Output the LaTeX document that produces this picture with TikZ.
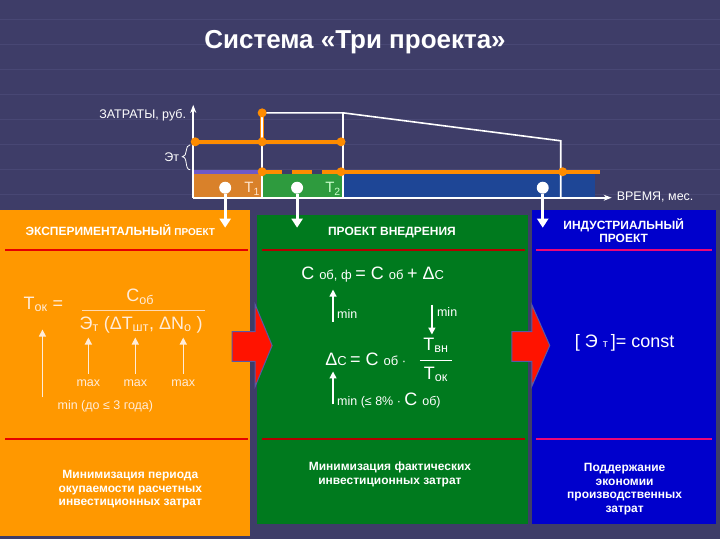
\documentclass[tikz,border=0pt]{standalone}
\usepackage{fontspec}
\setmainfont{Liberation Sans}
\usetikzlibrary{arrows.meta}
\begin{document}
\begin{tikzpicture}[x=1pt,y=-1pt,
  wl/.style={draw=white,line width=1.6pt},
  ol/.style={draw=orange!90!yellow,line width=4pt},
  dot/.style={circle,fill=orange!90!yellow,inner sep=0pt,minimum size=9pt},
  pin/.style={circle,fill=white,inner sep=0pt,minimum size=12pt},
  pinarr/.style={draw=white,line width=3pt,-{Triangle[width=11pt,length=9pt]}},
  warr/.style={draw=white,line width=1.3pt,-{Triangle[width=7pt,length=7pt]}},
  txt/.style={text=white,font=\fontsize{18}{20}\selectfont,inner sep=1pt},
  stxt/.style={text=white,font=\fontsize{12.5}{14}\selectfont,inner sep=1pt},
  hdr/.style={text=white,font=\bfseries\fontsize{12}{13}\selectfont,align=center,inner sep=1pt},
  btxt/.style={text=white,font=\bfseries\fontsize{12}{13.5}\selectfont,align=center,inner sep=1pt},
  redarr/.style={fill=red!85!orange,draw=gray!70!blue,line width=1pt}]
\fill[color={rgb,255:red,62;green,61;blue,104}] (0,0) rectangle (720,540);
\foreach \y in {20,45,70,95,120,145,170,195} \draw[color={rgb,255:red,72;green,71;blue,116},line width=1pt] (0,\y) -- (720,\y);
\node[text=white,font=\bfseries\fontsize{26}{28}\selectfont] (title) at (355,42) {Система «Три проекта»};
% chart fills
\fill[color={rgb,255:red,217;green,129;blue,42}] (193,174) rectangle (262,198);
\fill[color={rgb,255:red,46;green,155;blue,62}] (262,174) rectangle (343,198);
\fill[color={rgb,255:red,30;green,70;blue,150}] (343,174) rectangle (595,198);
% orange lines
\draw[draw={rgb,255:red,110;green,90;blue,200},line width=4pt] (193,172) -- (262,172);
\draw[ol] (262,172) -- (282,172) (292,172) -- (312,172) (322,172) -- (600,172);
\draw[ol] (195,142) -- (341,142);
\draw[ol] (262,142) -- (262,113);
% white lines
\draw[wl] (262,113) -- (343,113) -- (561,141) -- (561,198);
\draw[wl] (262,113) -- (262,198);
\draw[wl] (343,113) -- (343,198);
\draw[wl,->,>={Stealth[length=8pt]}] (193,198) -- (193,105);
\draw[wl,->,>={Stealth[length=8pt]}] (193,198) -- (612,198);
\foreach \p in {(195,142),(262,142),(341,142),(262,113),(262,172),(341,172),(563,172)} \node[dot] at \p {};
\node[stxt,anchor=east] (za) at (187,115) {ЗАТРАТЫ, руб.};
\node[stxt,anchor=west] (vr) at (616,197) {ВРЕМЯ, мес.};
\node[stxt,anchor=east] (et) at (180,157) {Эт};
\draw[white,line width=0.8pt] (190,145) .. controls (184,145) and (188,157) .. (182,157) .. controls (188,157) and (184,170) .. (190,170);
\node[txt,font=\fontsize{15}{16}\selectfont,text=white!80!orange] (t1) at (252,189) {T\textsubscript{1}};
\node[txt,font=\fontsize{15}{16}\selectfont,text=white!80!green] (t2) at (333,189) {T\textsubscript{2}};
% panels
\fill[color={rgb,255:red,255;green,152;blue,0}] (0,210) rectangle (250,537);
\fill[color={rgb,255:red,0;green,122;blue,30}] (257,215) rectangle (528,525);
\fill[color={rgb,255:red,0;green,0;blue,204}] (532,210) rectangle (716,525);
\draw[red!90!black,line width=2pt] (5,250) -- (248,250) (5,440) -- (248,440);
\draw[red!70!black,line width=2pt] (262,250) -- (525,250) (262,440) -- (525,440);
\draw[magenta!80!red,line width=2pt] (536,250) -- (712,250) (536,440) -- (712,440);
\node[hdr] (h1) at (120,230) {ЭКСПЕРИМЕНТАЛЬНЫЙ \fontsize{10}{11}\selectfont ПРОЕКТ};
\node[hdr] (h2) at (392,233) {ПРОЕКТ ВНЕДРЕНИЯ};
\node[hdr] (h3) at (624,231) {ИНДУСТРИАЛЬНЫЙ\\ПРОЕКТ};
% pins
\foreach \x/\n in {225/a,297/b,543/c} {
  \node[pin] (p\n) at (\x,188) {};
  \coordinate (q\n) at (\x,228);
  \draw[pinarr] (p\n) -- (q\n);
}
% red arrows
\draw[redarr] (232,332) -- (255,332) -- (255,305) -- (272,346) -- (255,387) -- (255,362) -- (232,362) -- cycle;
\draw[redarr] (512,332) -- (532,332) -- (532,305) -- (550,346) -- (532,387) -- (532,362) -- (512,362) -- cycle;
% orange formula
\node[txt,text=white!85!orange,anchor=west] (tok) at (22,305) {T\textsubscript{ок} =};
\node[txt,text=white!85!orange] (cob) at (140,297) {C\textsubscript{об}};
\draw[white!70!orange,line width=0.6pt] (82,311) -- (205,311);
\node[txt,text=white!85!orange,anchor=west] (den) at (78,325) {Э\textsubscript{т} (ΔT\textsubscript{шт}, ΔN\textsubscript{о} )};
\foreach \x/\n in {88/1,135/2,183/3} {
  \node[stxt,text=white!85!orange] (m\n) at (\x,384) {max};
  \coordinate (u\n) at (\x,338);
  \draw[warr,draw=white!85!orange] (m\n.north) ++(0,-5) -- (u\n);
}
\coordinate (ua) at (42,330);
\coordinate (ub) at (42,398);
\draw[warr,draw=white!85!orange] (ub) -- (ua);
\node[stxt,text=white!85!orange] (min0) at (105,407) {min (до ≤ 3 года)};
\node[btxt] (b1) at (130,490) {Минимизация периода\\окупаемости расчетных\\инвестиционных затрат};
% green formulas
\node[txt,anchor=west] (f1) at (300,275) {С \fontsize{13}{14}\selectfont об, ф \fontsize{18}{20}\selectfont = С \fontsize{13}{14}\selectfont об \fontsize{18}{20}\selectfont + Δ\fontsize{13}{14}\selectfont С};
\coordinate (g1) at (333,290); \coordinate (g2) at (333,322);
\draw[warr] (g2) -- (g1);
\node[stxt,anchor=west] (mn1) at (336,314) {min};
\coordinate (g3) at (432,305); \coordinate (g4) at (432,335);
\draw[warr] (g3) -- (g4);
\node[stxt,anchor=west] (mn2) at (436,312) {min};
\node[txt,anchor=west] (f2) at (324,360) {Δ\fontsize{13}{14}\selectfont С \fontsize{18}{20}\selectfont = С \fontsize{13}{14}\selectfont об ·};
\node[txt] (tvn) at (436,346) {T\textsubscript{вн}};
\draw[white,line width=0.5pt] (420,361) -- (452,361);
\node[txt] (tok2) at (436,375) {T\textsubscript{ок}};
\coordinate (g5) at (333,372); \coordinate (g6) at (333,405);
\draw[warr] (g6) -- (g5);
\node[stxt,anchor=west] (mn3) at (336,401) {min (≤ 8\% · \fontsize{18}{20}\selectfont С \fontsize{12.5}{14}\selectfont об)};
\node[btxt] (b2) at (390,475) {Минимизация фактических\\инвестиционных затрат};
% blue
\node[txt] (const) at (625,343) {[ Э \fontsize{11}{12}\selectfont т \fontsize{18}{20}\selectfont ]= const};
\node[btxt] (b3) at (625,490) {Поддержание\\экономии\\производственных\\затрат};
\end{tikzpicture}
\end{document}
